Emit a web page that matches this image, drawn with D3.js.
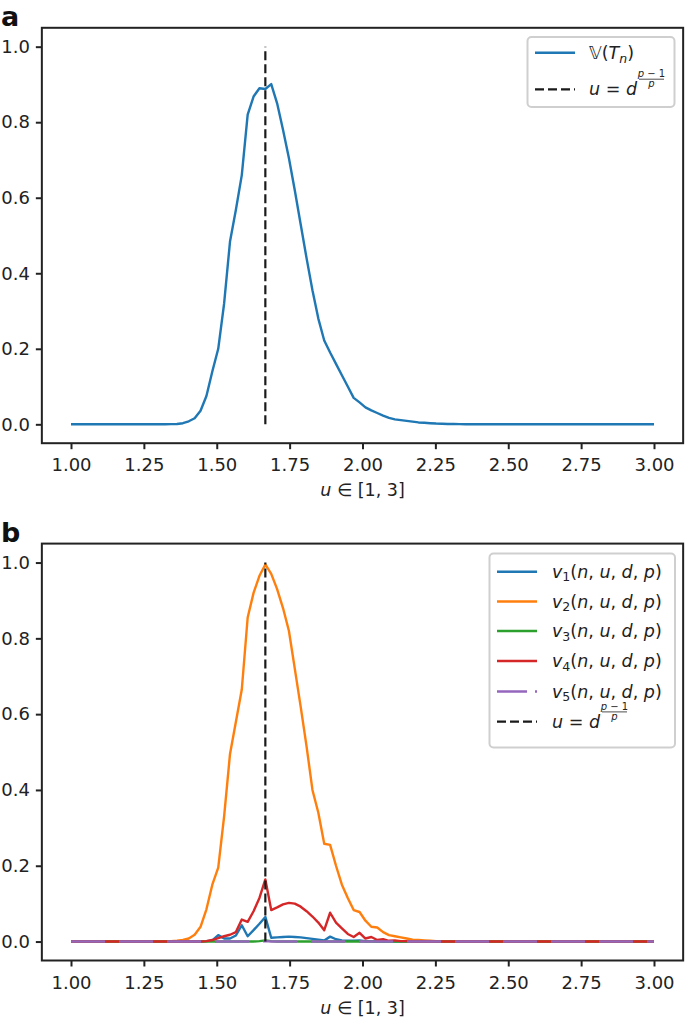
<!DOCTYPE html>
<html>
<head>
<meta charset="utf-8">
<script src="https://cdn.jsdelivr.net/npm/d3@7"></script>
<style>
  html, body { margin: 0; padding: 0; background: #fff; }
  svg { display: block; font-family: "DejaVu Sans", sans-serif; }
</style>
</head>
<body>
<svg id="chart" width="685" height="1017"></svg>
<script>
// ---------------- data ----------------
const u = [
  1.0000, 1.0202, 1.0404, 1.0606, 1.0808, 1.1010, 1.1212, 1.1414, 1.1616, 1.1818,
  1.2020, 1.2222, 1.2424, 1.2626, 1.2828, 1.3030, 1.3232, 1.3434, 1.3636, 1.3838,
  1.4040, 1.4242, 1.4444, 1.4646, 1.4848, 1.5051, 1.5253, 1.5455, 1.5657, 1.5859,
  1.6061, 1.6263, 1.6465, 1.6667, 1.6869, 1.7071, 1.7273, 1.7475, 1.7677, 1.7879,
  1.8081, 1.8283, 1.8485, 1.8687, 1.8889, 1.9091, 1.9293, 1.9495, 1.9697, 1.9899,
  2.0101, 2.0303, 2.0505, 2.0707, 2.0909, 2.1111, 2.1313, 2.1515, 2.1717, 2.1919,
  2.2121, 2.2323, 2.2525, 2.2727, 2.2929, 2.3131, 2.3333, 2.3535, 2.3737, 2.3939,
  2.4141, 2.4343, 2.4545, 2.4747, 2.4949, 2.5152, 2.5354, 2.5556, 2.5758, 2.5960,
  2.6162, 2.6364, 2.6566, 2.6768, 2.6970, 2.7172, 2.7374, 2.7576, 2.7778, 2.7980,
  2.8182, 2.8384, 2.8586, 2.8788, 2.8990, 2.9192, 2.9394, 2.9596, 2.9798, 3.0000
];

// panel a: V(T_n)
const vTn = [
  0, 0, 0, 0, 0, 0, 0, 0, 0, 0,
  0, 0, 0, 0, 0, 0, 0, 0.0005, 0.001, 0.003,
  0.008, 0.016, 0.036, 0.075, 0.14, 0.20, 0.32, 0.484, 0.568, 0.66,
  0.82, 0.868, 0.89, 0.888, 0.901, 0.85, 0.78, 0.705, 0.62, 0.53,
  0.44, 0.355, 0.28, 0.222, 0.19, 0.16, 0.13, 0.10, 0.07, 0.058,
  0.045, 0.037, 0.03, 0.023, 0.017, 0.013, 0.011, 0.009, 0.007, 0.005,
  0.004, 0.003, 0.002, 0.0015, 0.001, 0.0008, 0.0005, 0.0003, 0.0002, 0.0001,
  0, 0, 0, 0, 0, 0, 0, 0, 0, 0,
  0, 0, 0, 0, 0, 0, 0, 0, 0, 0,
  0, 0, 0, 0, 0, 0, 0, 0, 0, 0
];

// panel b: v1 .. v5
const v1 = [
  0, 0, 0, 0, 0, 0, 0, 0, 0, 0,
  0, 0, 0, 0, 0, 0, 0, 0, 0, 0,
  0, 0, 0, 0.001, 0.003, 0.017, 0.008, 0.008, 0.016, 0.043,
  0.014, 0.03, 0.047, 0.065, 0.01, 0.011, 0.012, 0.013, 0.012, 0.011,
  0.009, 0.007, 0.005, 0.003, 0.013, 0.006, 0.003, 0.002, 0.002, 0.003,
  0.001, 0.001, 0, 0, 0, 0, 0, 0, 0, 0,
  0, 0, 0, 0, 0, 0, 0, 0, 0, 0,
  0, 0, 0, 0, 0, 0, 0, 0, 0, 0,
  0, 0, 0, 0, 0, 0, 0, 0, 0, 0,
  0, 0, 0, 0, 0, 0, 0, 0, 0, 0
];
const v2 = [
  0, 0, 0, 0, 0, 0, 0, 0, 0, 0,
  0, 0, 0, 0, 0, 0, 0, 0.001, 0.002, 0.004,
  0.008, 0.018, 0.039, 0.085, 0.15, 0.195, 0.33, 0.495, 0.58, 0.665,
  0.855, 0.92, 0.965, 0.995, 0.97, 0.93, 0.88, 0.82, 0.72, 0.62,
  0.515, 0.40, 0.34, 0.258, 0.255, 0.20, 0.15, 0.115, 0.083, 0.078,
  0.055, 0.039, 0.037, 0.025, 0.017, 0.014, 0.011, 0.008, 0.005, 0.004,
  0.003, 0.002, 0.001, 0.0005, 0, 0, 0, 0, 0, 0,
  0, 0, 0, 0, 0, 0, 0, 0, 0, 0,
  0, 0, 0, 0, 0, 0, 0, 0, 0, 0,
  0, 0, 0, 0, 0, 0, 0, 0, 0, 0
];
const v3 = [
  0, 0, 0, 0, 0, 0, 0, 0, 0, 0,
  0, 0, 0, 0, 0, 0, 0, 0, 0, 0,
  0, 0, 0, 0, 0, 0, 0, 0, 0, 0,
  0, 0, 0.001, 0.003, 0.001, 0, 0, 0, 0, 0,
  0, 0, 0, 0, 0, 0, 0, 0, 0, 0,
  0, 0, 0, 0, 0, 0, 0, 0, 0, 0,
  0, 0, 0, 0, 0, 0, 0, 0, 0, 0,
  0, 0, 0, 0, 0, 0, 0, 0, 0, 0,
  0, 0, 0, 0, 0, 0, 0, 0, 0, 0,
  0, 0, 0, 0, 0, 0, 0, 0, 0, 0
];
const v4 = [
  0, 0, 0, 0, 0, 0, 0, 0, 0, 0,
  0, 0, 0, 0, 0, 0, 0, 0, 0, 0,
  0, 0, 0, 0.001, 0.004, 0.009, 0.014, 0.018, 0.025, 0.058,
  0.052, 0.08, 0.115, 0.164, 0.083, 0.09, 0.098, 0.102, 0.10, 0.092,
  0.08, 0.066, 0.05, 0.03, 0.076, 0.05, 0.035, 0.02, 0.012, 0.023,
  0.008, 0.012, 0.004, 0.006, 0.002, 0.003, 0.001, 0.001, 0, 0,
  0, 0, 0, 0, 0, 0, 0, 0, 0, 0,
  0, 0, 0, 0, 0, 0, 0, 0, 0, 0,
  0, 0, 0, 0, 0, 0, 0, 0, 0, 0,
  0, 0, 0, 0, 0, 0, 0, 0, 0, 0
];
const v5 = [
  0, 0, 0, 0, 0, 0, 0, 0, 0, 0,
  0, 0, 0, 0, 0, 0, 0, 0, 0, 0,
  0, 0, 0, 0, 0, 0, 0, 0, 0, 0,
  0, 0, 0, 0.001, 0, 0, 0, 0, 0, 0,
  0, 0, 0, 0, 0, 0, 0, 0, 0, 0,
  0, 0, 0, 0, 0, 0, 0, 0, 0, 0,
  0, 0, 0, 0, 0, 0, 0, 0, 0, 0,
  0, 0, 0, 0, 0, 0, 0, 0, 0, 0,
  0, 0, 0, 0, 0, 0, 0, 0, 0, 0,
  0, 0, 0, 0, 0, 0, 0, 0, 0, 0
];

const threshold = 1.6667;           // u = d^((p-1)/p)
const thresholdSpan = [0, 1];       // vertical extent of dashed marker
const xTicks = [1.00, 1.25, 1.50, 1.75, 2.00, 2.25, 2.50, 2.75, 3.00];
const yTicks = [0.0, 0.2, 0.4, 0.6, 0.8, 1.0];
const xDomain = [0.9, 3.1];
const yDomain = [-0.05, 1.05];

const seriesB = [
  { name: "v", sub: "1", values: v1, color: "#1f77b4" },
  { name: "v", sub: "2", values: v2, color: "#ff7f0e" },
  { name: "v", sub: "3", values: v3, color: "#2ca02c" },
  { name: "v", sub: "4", values: v4, color: "#d62728" },
  { name: "v", sub: "5", values: v5, color: "#9467bd", dash: "34,14", legendDash: "30,8" }
];

// ---------------- drawing ----------------
const svg = d3.select("#chart");
const INK = "#222";
const FONT = 18;

const x = d3.scaleLinear().domain(xDomain).range([41.85, 683.15]);

function drawPanel(top, bottom, letter) {
  const y = d3.scaleLinear().domain(yDomain).range([bottom, top]);
  const g = svg.append("g");

  const xa = g.append("g").attr("transform", `translate(0,${bottom})`)
    .call(d3.axisBottom(x).tickValues(xTicks).tickFormat(d3.format(".2f")).tickSize(6).tickPadding(9.5));
  const ya = g.append("g").attr("transform", `translate(${x(xDomain[0])},0)`)
    .call(d3.axisLeft(y).tickValues(yTicks).tickFormat(d3.format(".1f")).tickSize(6).tickPadding(6));
  [xa, ya].forEach(a => {
    a.select(".domain").remove();
    a.selectAll(".tick line").attr("stroke", INK).attr("stroke-width", 2);
    a.selectAll(".tick text").attr("fill", INK).style("font-size", FONT + "px")
      .style("font-family", "DejaVu Sans");
  });

  g.append("rect")
    .attr("x", x(xDomain[0])).attr("y", top)
    .attr("width", x(xDomain[1]) - x(xDomain[0])).attr("height", bottom - top)
    .attr("fill", "none").attr("stroke", INK).attr("stroke-width", 2);

  const xl = g.append("text")
    .attr("x", (x(xDomain[0]) + x(xDomain[1])) / 2)
    .attr("y", bottom + 53)
    .attr("text-anchor", "middle")
    .attr("fill", INK).style("font-size", "17.5px");
  xl.append("tspan").style("font-style", "italic").text("u");
  xl.append("tspan").text(" \u2208 [1, 3]");

  g.append("text").attr("x", 1).attr("y", top - 1.5)
    .attr("fill", "#111").style("font-size", "27px").style("font-weight", "bold")
    .text(letter);

  return { g, y };
}

const line = (y) => d3.line().x((d, i) => x(u[i])).y(d => y(d));

function dashed(g, y) {
  g.append("line")
    .attr("x1", x(threshold)).attr("x2", x(threshold))
    .attr("y1", y(thresholdSpan[0])).attr("y2", y(thresholdSpan[1]))
    .attr("stroke", "#1a1a1a").attr("stroke-width", 2.2)
    .attr("stroke-dasharray", "9,4");
}

function thresholdLabel(g, tx, ty) {
  const t = g.append("text").attr("x", tx).attr("y", ty).attr("fill", INK)
    .style("font-size", "17.5px");
  t.append("tspan").style("font-style", "italic").text("u");
  t.append("tspan").text(" = ");
  t.append("tspan").style("font-style", "italic").text("d");
  const w = t.node().getComputedTextLength();
  const fx = tx + w + 2;
  const fw = 25;
  const num = g.append("text").attr("x", fx + fw / 2).attr("y", ty - 18)
    .attr("text-anchor", "middle").attr("fill", INK).style("font-size", "10px");
  num.append("tspan").style("font-style", "italic").text("p");
  num.append("tspan").text(" \u2212 1");
  g.append("line").attr("x1", fx).attr("x2", fx + fw)
    .attr("y1", ty - 15.8).attr("y2", ty - 15.8)
    .attr("stroke", INK).attr("stroke-width", 0.8);
  g.append("text").attr("x", fx + fw / 2).attr("y", ty - 8)
    .attr("text-anchor", "middle").attr("fill", INK).style("font-size", "10px")
    .style("font-style", "italic").text("p");
}

function legendBox(g, x0, y0, w, h) {
  g.append("rect").attr("x", x0).attr("y", y0).attr("width", w).attr("height", h)
    .attr("rx", 4).attr("fill", "rgba(255,255,255,0.85)")
    .attr("stroke", "#cfcfcf").attr("stroke-width", 2);
}

// ----- panel a -----
const A = drawPanel(27.8, 443.2, "a");
A.g.append("path").datum(vTn)
  .attr("d", line(A.y))
  .attr("fill", "none").attr("stroke", "#1f77b4").attr("stroke-width", 2.4)
  .attr("stroke-linejoin", "round");
dashed(A.g, A.y);

legendBox(A.g, 527.5, 37, 147, 70);
A.g.append("line").attr("x1", 535).attr("x2", 575).attr("y1", 52.7).attr("y2", 52.7)
  .attr("stroke", "#1f77b4").attr("stroke-width", 2.4);
{
  const t = A.g.append("text").attr("x", 589).attr("y", 59).attr("fill", INK).style("font-size", "17.5px");
  t.append("tspan").text("\uD835\uDD4D");
  t.append("tspan").text("(");
  t.append("tspan").style("font-style", "italic").text("T");
  t.append("tspan").style("font-style", "italic").style("font-size", "12.5px").attr("dy", 4).text("n");
  t.append("tspan").attr("dy", -4).text(")");
}
A.g.append("line").attr("x1", 535).attr("x2", 575).attr("y1", 89.3).attr("y2", 89.3)
  .attr("stroke", "#1a1a1a").attr("stroke-width", 2.2).attr("stroke-dasharray", "9,4");
thresholdLabel(A.g, 589, 95);

// ----- panel b -----
const B = drawPanel(543.6, 960.5, "b");
seriesB.forEach(s => {
  B.g.append("path").datum(s.values)
    .attr("d", line(B.y))
    .attr("fill", "none").attr("stroke", s.color).attr("stroke-width", 2.4)
    .attr("stroke-linejoin", "round")
    .attr("stroke-dasharray", s.dash || null);
});
dashed(B.g, B.y);

legendBox(B.g, 489.5, 553.5, 185.5, 194);
const rowY = [571.7, 601.5, 631, 661, 691.5, 721.7];
seriesB.forEach((s, i) => {
  B.g.append("line").attr("x1", 497).attr("x2", 537).attr("y1", rowY[i]).attr("y2", rowY[i])
    .attr("stroke", s.color).attr("stroke-width", 2.4)
    .attr("stroke-dasharray", s.legendDash || null);
  const t = B.g.append("text").attr("x", 552).attr("y", rowY[i] + 6).attr("fill", INK)
    .style("font-size", "17.5px");
  t.append("tspan").style("font-style", "italic").text(s.name);
  t.append("tspan").style("font-size", "12.5px").attr("dy", 3.5).text(s.sub);
  t.append("tspan").attr("dy", -3.5).text("(");
  const args = ["n", "u", "d", "p"];
  args.forEach((a, j) => {
    t.append("tspan").style("font-style", "italic").text(a);
    if (j < args.length - 1) t.append("tspan").text(", ");
  });
  t.append("tspan").text(")");
});
B.g.append("line").attr("x1", 497).attr("x2", 537).attr("y1", rowY[5]).attr("y2", rowY[5])
  .attr("stroke", "#1a1a1a").attr("stroke-width", 2.2).attr("stroke-dasharray", "9,4");
thresholdLabel(B.g, 552, rowY[5] + 6);
</script>
</body>
</html>
